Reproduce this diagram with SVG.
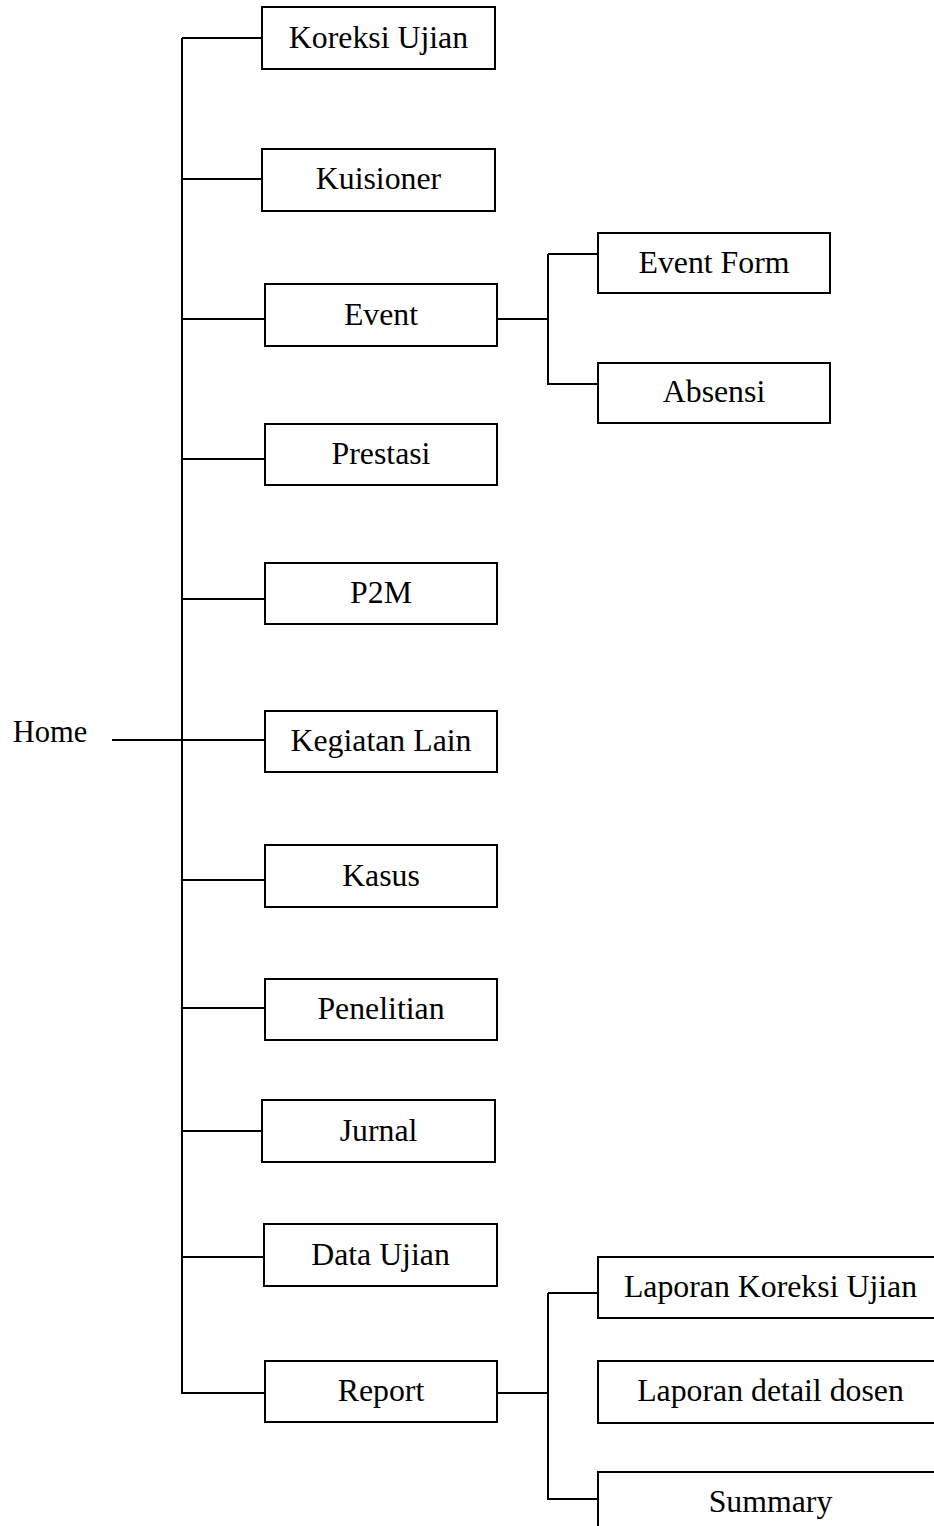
<svg xmlns="http://www.w3.org/2000/svg" width="934" height="1526" viewBox="0 0 934 1526">
<style>
rect{fill:#fff;stroke:#000;stroke-width:2}
line{stroke:#000;stroke-width:2}
text{font-family:"Liberation Serif","Times New Roman",serif;font-size:31.8px;fill:#000;text-anchor:middle}
</style>
<rect x="0" y="0" width="934" height="1526" style="fill:#fff;stroke:none"/>
<g id="connectors">
<line x1="112" y1="740" x2="182" y2="740"/>
<line x1="182" y1="38" x2="182" y2="1394"/>
<line x1="182" y1="38" x2="263" y2="38"/>
<line x1="182" y1="179" x2="263" y2="179"/>
<line x1="182" y1="319" x2="266" y2="319"/>
<line x1="182" y1="459" x2="266" y2="459"/>
<line x1="182" y1="599" x2="266" y2="599"/>
<line x1="182" y1="740" x2="266" y2="740"/>
<line x1="182" y1="880" x2="266" y2="880"/>
<line x1="182" y1="1008" x2="266" y2="1008"/>
<line x1="182" y1="1131" x2="263" y2="1131"/>
<line x1="182" y1="1257" x2="265" y2="1257"/>
<line x1="182" y1="1393" x2="266" y2="1393"/>
<line x1="497" y1="319" x2="548" y2="319"/>
<line x1="548" y1="254" x2="548" y2="385"/>
<line x1="548" y1="254" x2="599" y2="254"/>
<line x1="548" y1="384" x2="599" y2="384"/>
<line x1="497" y1="1393" x2="548" y2="1393"/>
<line x1="548" y1="1293" x2="548" y2="1500"/>
<line x1="548" y1="1293" x2="599" y2="1293"/>
<line x1="548" y1="1499" x2="599" y2="1499"/>
</g>
<g id="home"><text x="50" y="742" style="font-size:30.5px">Home</text></g>
<g id="koreksi-ujian"><rect x="262" y="7" width="233" height="62"/><text x="378.5" y="48">Koreksi Ujian</text></g>
<g id="kuisioner"><rect x="262" y="149" width="233" height="62"/><text x="378.5" y="189">Kuisioner</text></g>
<g id="event"><rect x="265" y="284" width="232" height="62"/><text x="381" y="325">Event</text></g>
<g id="event-form"><rect x="598" y="233" width="232" height="60"/><text x="714" y="273">Event Form</text></g>
<g id="absensi"><rect x="598" y="363" width="232" height="60"/><text x="714" y="402">Absensi</text></g>
<g id="prestasi"><rect x="265" y="424" width="232" height="61"/><text x="381" y="464">Prestasi</text></g>
<g id="p2m"><rect x="265" y="563" width="232" height="61"/><text x="381" y="603">P2M</text></g>
<g id="kegiatan-lain"><rect x="265" y="711" width="232" height="61"/><text x="381" y="751">Kegiatan Lain</text></g>
<g id="kasus"><rect x="265" y="845" width="232" height="62"/><text x="381" y="886">Kasus</text></g>
<g id="penelitian"><rect x="265" y="979" width="232" height="61"/><text x="381" y="1019">Penelitian</text></g>
<g id="jurnal"><rect x="262" y="1100" width="233" height="62"/><text x="378.5" y="1141">Jurnal</text></g>
<g id="data-ujian"><rect x="264" y="1224" width="233" height="62"/><text x="380.5" y="1265">Data Ujian</text></g>
<g id="report"><rect x="265" y="1361" width="232" height="61"/><text x="381" y="1401">Report</text></g>
<g id="laporan-koreksi-ujian"><rect x="598" y="1257" width="345" height="61"/><text x="770.5" y="1297">Laporan Koreksi Ujian</text></g>
<g id="laporan-detail-dosen"><rect x="598" y="1361" width="345" height="62"/><text x="770.5" y="1401">Laporan detail dosen</text></g>
<g id="summary"><rect x="598" y="1472" width="345" height="62"/><text x="770.5" y="1512">Summary</text></g>
</svg>
